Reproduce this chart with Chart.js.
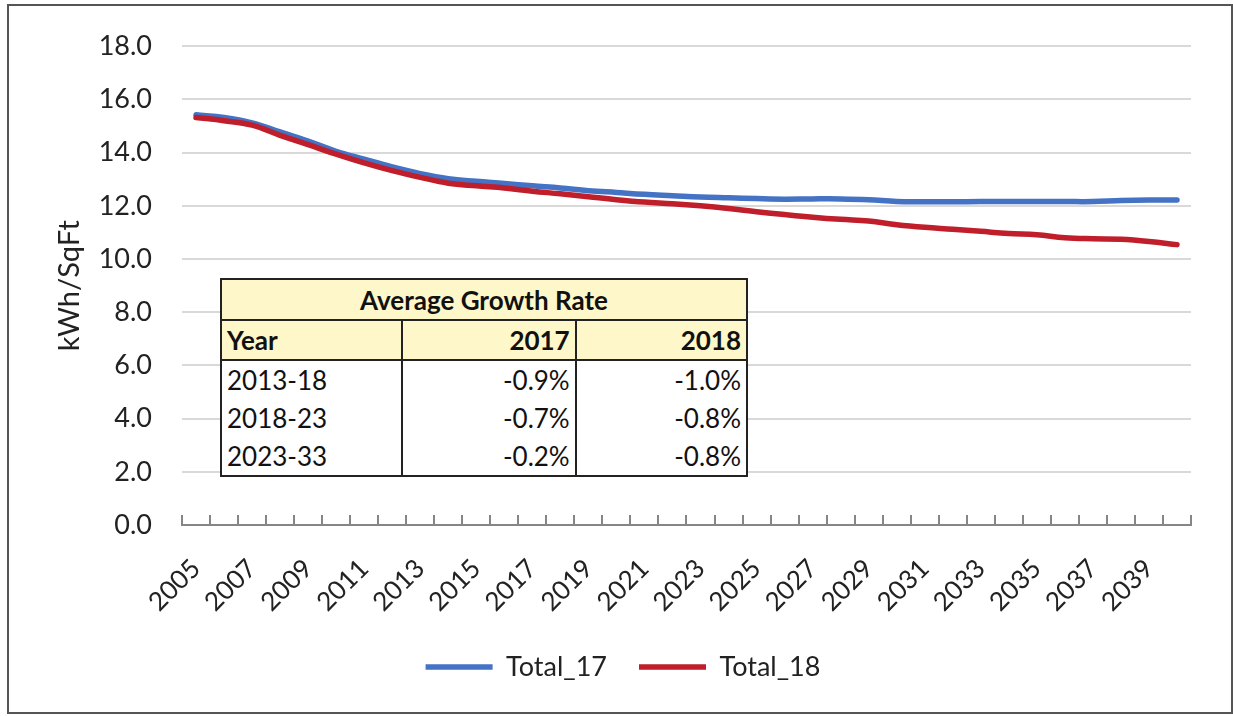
<!DOCTYPE html>
<html lang="en">
<head>
    <meta charset="UTF-8">
    <title>kWh/SqFt Total_17 vs Total_18</title>
    <script src="https://cdn.jsdelivr.net/npm/chart.js"></script>
    <style>
        html, body { margin: 0; padding: 0; background: #fff; }
        #wrap { position: relative; width: 1233px; height: 716px; }
        #frame { position: absolute; left: 7px; top: 4px; width: 1222px; height: 706px; border: 2px solid #555; pointer-events: none; }
        #growth { position: absolute; left: 220px; top: 278px; width: 528px; border-collapse: collapse;
                  border: 2px solid #222; font-family: Lato, sans-serif; font-size: 26px; color: #111; background: #fff; }
        #growth td { height: 38px; padding: 0 5px; line-height: 1; white-space: nowrap; }
        #growth tr.ttl td { background: #FEF7C9; font-weight: bold; text-align: center; height: 39px; border-bottom: 2px solid #222; }
        #growth tr.hdr td { background: #FEF7C9; font-weight: bold; border-bottom: 2px solid #222; }
        #growth td.num { text-align: right; }
        #growth td.sep { border-left: 2px solid #222; }
    </style>
</head>
<body>
<div id="wrap">
    <canvas id="chart" width="1233" height="716"></canvas>
    <table id="growth"><colgroup><col style="width:182px"><col style="width:174px"><col style="width:172px"></colgroup><tbody></tbody></table>
    <div id="frame"></div>
</div>

<script>
    // chart data
    const years = [];
    for (let y = 2005; y <= 2040; y++) years.push(String(y));

    const total17 = [15.42, 15.32, 15.12, 14.78, 14.43, 14.05, 13.75, 13.46, 13.21, 13.02,
                     12.92, 12.84, 12.75, 12.67, 12.57, 12.50, 12.43, 12.38, 12.33, 12.30,
                     12.27, 12.25, 12.26, 12.26, 12.23, 12.16, 12.15, 12.15, 12.16, 12.16,
                     12.16, 12.16, 12.16, 12.20, 12.22, 12.22];
    const total18 = [15.32, 15.20, 15.03, 14.65, 14.30, 13.94, 13.61, 13.32, 13.07, 12.85,
                     12.75, 12.67, 12.55, 12.45, 12.34, 12.23, 12.14, 12.08, 12.00, 11.90,
                     11.78, 11.67, 11.57, 11.49, 11.43, 11.29, 11.19, 11.12, 11.04, 10.96,
                     10.91, 10.80, 10.76, 10.74, 10.66, 10.54];

    const yTicksMax = 18;
    const yStep = 2;
    const yTitle = 'kWh/SqFt';

    // inset table
    const tableTitle = 'Average Growth Rate';
    const tableHeader = ['Year', '2017', '2018'];
    const periods = ['2013-18', '2018-23', '2023-33'];
    const rate17 = ['-0.9%', '-0.7%', '-0.2%'];
    const rate18 = ['-1.0%', '-0.8%', '-0.8%'];

    const font = 'Lato, sans-serif';
    const txt = '#222';

    function buildTable() {
        const body = document.querySelector('#growth tbody');
        let html = '<tr class="ttl"><td colspan="3">' + tableTitle + '</td></tr>';
        html += '<tr class="hdr"><td>' + tableHeader[0] + '</td><td class="num sep">' + tableHeader[1] +
                '</td><td class="num sep">' + tableHeader[2] + '</td></tr>';
        for (let i = 0; i < periods.length; i++) {
            html += '<tr><td>' + periods[i] + '</td><td class="num sep">' + rate17[i] +
                    '</td><td class="num sep">' + rate18[i] + '</td></tr>';
        }
        body.innerHTML = html;
    }

    // small tick marks pointing up from the x axis, between categories (Excel style)
    const upTicks = {
        id: 'upTicks',
        beforeDatasetsDraw(chart) {
            const xs = chart.scales.x, ctx = chart.ctx;
            const half = (xs.getPixelForValue(1) - xs.getPixelForValue(0)) / 2;
            ctx.save();
            ctx.strokeStyle = '#868686';
            ctx.lineWidth = 2;
            for (let i = 0; i <= years.length; i++) {
                const x = Math.round(xs.getPixelForValue(i) - half);
                ctx.beginPath();
                ctx.moveTo(x, xs.top);
                ctx.lineTo(x, xs.top - 10);
                ctx.stroke();
            }
            ctx.restore();
        }
    };

    buildTable();

    new Chart(document.getElementById('chart'), {
        type: 'line',
        data: {
            labels: years,
            datasets: [{
                label: 'Total_17',
                data: total17,
                borderColor: '#4472C4',
                backgroundColor: '#4472C4',
                borderWidth: 5.5,
                borderCapStyle: 'round',
                pointRadius: 0,
                pointStyle: 'line',
                tension: 0.4,
                order: 2
            }, {
                label: 'Total_18',
                data: total18,
                borderColor: '#BF1E2A',
                backgroundColor: '#BF1E2A',
                borderWidth: 5.5,
                borderCapStyle: 'round',
                pointRadius: 0,
                pointStyle: 'line',
                tension: 0.4,
                order: 1
            }]
        },
        options: {
            responsive: false,
            animation: false,
            layout: { padding: { left: 55, right: 42, top: 43, bottom: 25.5 } },
            plugins: {
                tooltip: { enabled: false },
                legend: {
                    position: 'bottom',
                    labels: {
                        usePointStyle: true,
                        pointStyleWidth: 67,
                        padding: 32,
                        color: txt,
                        font: { family: font, size: 27 },
                        sort: (a, b) => a.datasetIndex - b.datasetIndex
                    }
                }
            },
            scales: {
                x: {
                    offset: true,
                    grid: { drawOnChartArea: false, drawTicks: false },
                    border: { color: '#868686', width: 2 },
                    ticks: {
                        autoSkip: false,
                        minRotation: 45,
                        maxRotation: 45,
                        padding: 28,
                        color: txt,
                        font: { family: font, size: 26 },
                        callback: function (v, i) { return i % 2 === 0 ? this.getLabelForValue(v) : ''; }
                    },
                    afterFit: s => { s.height = 96.5; }
                },
                y: {
                    min: 0,
                    max: yTicksMax,
                    grid: { color: '#D9D9D9', lineWidth: 2, drawTicks: false },
                    border: { display: false },
                    ticks: {
                        stepSize: yStep,
                        padding: 30,
                        color: txt,
                        font: { family: font, size: 27 },
                        callback: v => v.toFixed(1)
                    },
                    title: {
                        display: true,
                        text: yTitle,
                        color: txt,
                        font: { family: font, size: 29, lineHeight: 1 },
                        padding: { top: 0, bottom: 0 }
                    },
                    afterFit: s => { s.width = 127; }
                }
            }
        },
        plugins: [upTicks]
    });
</script>
</body>
</html>
